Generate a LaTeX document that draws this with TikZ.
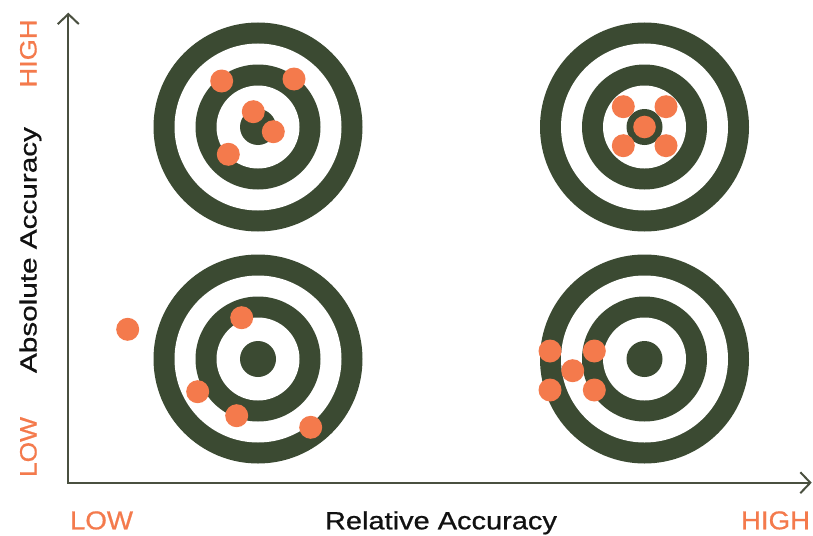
\documentclass[tikz,border=0pt]{standalone}
\usepackage{fontspec}
\usepackage{graphicx}
\setmainfont{Liberation Sans}
\newfontfamily\lblfont{Liberation Sans}[FakeBold=0.7]
\usetikzlibrary{arrows.meta}
\definecolor{tgreen}{HTML}{3B4A32}
\definecolor{torange}{HTML}{F47A4C}
\definecolor{taxis}{HTML}{4A5040}
\definecolor{ttext}{HTML}{111111}
\tikzset{
  target/.pic={
    \fill[tgreen] (0,0) circle[radius=104.5];
    \fill[white]  (0,0) circle[radius=83.5];
    \fill[tgreen] (0,0) circle[radius=62.5];
    \fill[white]  (0,0) circle[radius=41.5];
    \fill[tgreen] (0,0) circle[radius=18];
  },
  hit/.style={fill=torange},
  axisline/.style={draw=taxis,line width=2pt,line join=miter},
  barb/.tip={Straight Barb[length=10pt,width=21pt,line width=2pt]},
  lbl/.style={inner sep=0pt,outer sep=0pt,font=\lblfont\fontsize{24}{28}\selectfont},
}
\begin{document}
\begin{tikzpicture}[x=1pt,y=-1pt]
\useasboundingbox[fill=white] (0,0) rectangle (813,535);

% targets
\pic at (258,127) {target};
\pic at (644.5,127) {target};
\pic at (258,359) {target};
\pic at (644.5,359) {target};

% top-left hits
\fill[hit] (221.7,81) circle[radius=11.5];
\fill[hit] (294,79) circle[radius=11.5];
\fill[hit] (253.3,111.7) circle[radius=11.5];
\fill[hit] (273.3,131.7) circle[radius=11.5];
\fill[hit] (228.3,154.3) circle[radius=11.5];

% top-right hits
\fill[hit] (623.3,106.7) circle[radius=11.5];
\fill[hit] (666,106.7) circle[radius=11.5];
\fill[hit] (623.3,145.7) circle[radius=11.5];
\fill[hit] (666,145.7) circle[radius=11.5];
\fill[hit] (644.5,127) circle[radius=11.3];

% bottom-left hits
\fill[hit] (127.7,329.3) circle[radius=11.5];
\fill[hit] (241.7,317.7) circle[radius=11.5];
\fill[hit] (197.7,391.7) circle[radius=11.5];
\fill[hit] (236.7,415.7) circle[radius=11.5];
\fill[hit] (310.7,427.3) circle[radius=11.5];

% bottom-right hits
\fill[hit] (550,351) circle[radius=11.5];
\fill[hit] (594.3,351) circle[radius=11.5];
\fill[hit] (572.7,370.7) circle[radius=11.5];
\fill[hit] (550,390) circle[radius=11.5];
\fill[hit] (594.3,390) circle[radius=11.5];

% axes
\coordinate (o) at (68.3,482.7);
\coordinate (yt) at (68.3,12.7);
\coordinate (xt) at (811.7,482.7);
\draw[axisline,barb-barb] (yt) -- (o) -- (xt);

% vertical labels
\node[lbl,rotate=90,anchor=base,text=torange] (yhigh) at (36.5,53.5) {\resizebox{68pt}{16.5pt}{HIGH}};
\node[lbl,rotate=90,anchor=base,text=ttext] (ytitle) at (36.5,250) {\resizebox{246pt}{17pt}{Absolute Accuracy}};
\node[lbl,rotate=90,anchor=base,text=torange] (ylow) at (36.5,447) {\resizebox{60pt}{16.5pt}{LOW}};

% horizontal labels
\node[lbl,anchor=base,text=torange] (xlow) at (101.5,529.3) {\resizebox{63pt}{18pt}{LOW}};
\node[lbl,anchor=base,text=ttext] (xtitle) at (441,529.3) {\resizebox{232pt}{18pt}{Relative Accuracy}};
\node[lbl,anchor=base,text=torange] (xhigh) at (775.5,529.3) {\resizebox{69pt}{18pt}{HIGH}};
\end{tikzpicture}
\end{document}
